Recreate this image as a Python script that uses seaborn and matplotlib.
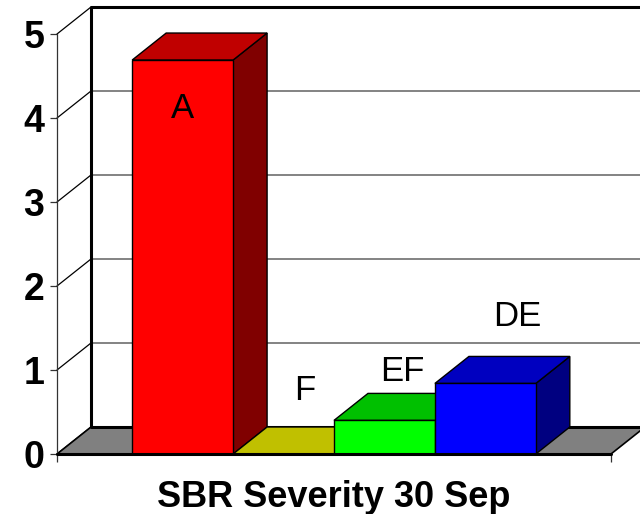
import matplotlib
matplotlib.use("Agg")
import matplotlib.pyplot as plt
import seaborn as sns
from matplotlib.patches import Polygon

# Data
labels = ["A", "F", "EF", "DE"]
values = [4.69, 0.0, 0.40, 0.84]
front_colors = ["#FF0000", "#FFFF00", "#00FF00", "#0000FF"]
top_colors = ["#C00000", "#C0C000", "#00C000", "#0000C0"]
side_colors = ["#800000", "#808000", "#008000", "#000080"]
xlabel = "SBR Severity 30 Sep"
yticks = [0, 1, 2, 3, 4, 5]

# label placement (pixels from top-front edge centre of each bar)
label_offsets = [(0, -48), (21, 64), (18, 49), (32, 67)]

sns.set_style("white")
plt.rcParams["font.family"] = ["Liberation Sans", "DejaVu Sans"]
for key in ["text.color", "axes.labelcolor", "xtick.color", "ytick.color"]:
    plt.rcParams[key] = "black"

W, H = 640, 514
fig = plt.figure(figsize=(6.4, 5.14), dpi=100)
ax = fig.add_axes([57 / W, 60 / H, 554 / W, 420 / H])

sns.barplot(x=labels, y=values, hue=labels, palette=front_colors, width=1.0,
            saturation=1, edgecolor="black", linewidth=1.0, legend=False, ax=ax)

x0, x1 = -1.245, 4.245
y0, y1 = 0, 5
ax.set_xlim(x0, x1)
ax.set_ylim(y0, y1)

# depth of the 3D box, converted from pixels to data units
ddx = 34 * (x1 - x0) / 554
ddy = 27 * (y1 - y0) / 420
far = x1 + ddx + 1

# back wall gridlines and frame
for k in yticks[1:-1]:
    ax.plot([x0 + ddx, far], [k + ddy, k + ddy], color="#6E6E6E", lw=1.2,
            clip_on=False, zorder=0.5)
ax.plot([x0 + ddx, x0 + ddx, far], [ddy, y1 + ddy, y1 + ddy], color="black",
        lw=2.2, clip_on=False, zorder=0.6, solid_capstyle="projecting")

# left wall diagonals
for k in yticks:
    ax.plot([x0, x0 + ddx], [k, k + ddy], color="black", lw=0.9,
            clip_on=False, zorder=0.6)

# floor
floor = Polygon([(x0, 0), (x1, 0), (x1 + ddx, ddy), (x0 + ddx, ddy)],
                closed=True, facecolor="#808080", edgecolor="black", lw=1.2,
                clip_on=False, zorder=0.8)
ax.add_patch(floor)
ax.plot([x0 + ddx, far], [ddy, ddy], color="black", lw=2.2, clip_on=False, zorder=0.9)
ax.plot([x0, x1], [0, 0], color="black", lw=2.2, clip_on=False, zorder=20)

# 3D faces of each bar
for i, bar in enumerate(ax.patches[:len(values)]):
    bx, bw, bh = bar.get_x(), bar.get_width(), bar.get_height()
    base = 3 + 3 * i
    side = Polygon([(bx + bw, 0), (bx + bw + ddx, ddy), (bx + bw + ddx, bh + ddy), (bx + bw, bh)],
                   closed=True, facecolor=side_colors[i], edgecolor="black", lw=1.0,
                   clip_on=False, zorder=base)
    top = Polygon([(bx, bh), (bx + bw, bh), (bx + bw + ddx, bh + ddy), (bx + ddx, bh + ddy)],
                  closed=True, facecolor=top_colors[i], edgecolor="black", lw=1.0,
                  clip_on=False, zorder=base + 1)
    ax.add_patch(side)
    ax.add_patch(top)
    bar.set_zorder(base + 2)
    ax.annotate(labels[i], (bx + bw / 2, bh), xytext=label_offsets[i],
                textcoords="offset pixels", ha="center", va="center",
                fontsize=25, color="black", zorder=30, annotation_clip=False)

# axes styling
for s in ["top", "right", "bottom"]:
    ax.spines[s].set_visible(False)
ax.spines["left"].set_color("#333333")
ax.spines["left"].set_linewidth(0.9)
ax.set_yticks(yticks)
ax.set_yticklabels([str(t) for t in yticks], fontsize=27, fontweight="bold")
ax.set_xticks([x0, x1])
ax.set_xticklabels(["", ""])
ax.tick_params(axis="y", length=5, width=0.9, pad=4, color="#333333", left=True)
ax.tick_params(axis="x", length=6, width=0.9, color="#333333", bottom=True)
ax.set_xlabel(xlabel, fontsize=26, fontweight="bold", labelpad=9)
ax.set_ylabel("")
ax.patch.set_alpha(0)

fig.savefig("out.png", dpi=100, facecolor="white")
